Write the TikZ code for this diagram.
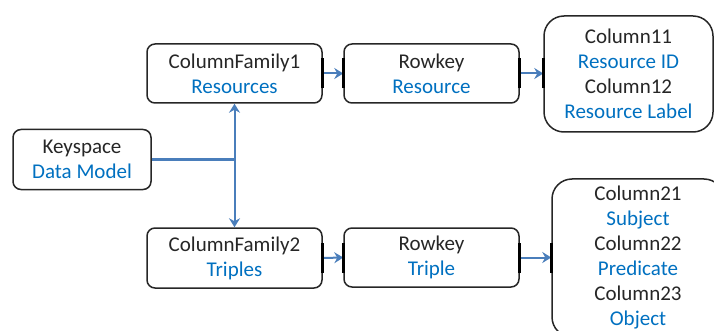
\documentclass[tikz,border=0pt]{standalone}
\usepackage{fontspec}
\setmainfont{Carlito}
\usetikzlibrary{arrows.meta}
\definecolor{txtblue}{RGB}{0,112,192}
\definecolor{arrblue}{RGB}{74,126,187}
\definecolor{txtdark}{RGB}{38,38,38}
\begin{document}
\begin{tikzpicture}[x=1pt,y=-1pt,
  box/.style={draw=txtdark,line width=1.5pt,rounded corners=8pt,align=center,
    inner sep=0pt,font=\fontsize{21}{25}\selectfont,text=txtdark},
  colbox/.style={box,rounded corners=20pt},
  conn/.style={draw=arrblue,line width=2pt,-{Stealth[length=9pt,width=11pt,inset=3pt]}},
  edgemark/.style={line width=2.6pt,draw=black}
]
\useasboundingbox (0,0) rectangle (714,331);
\clip (0,0) rectangle (714,331);
\node[box,minimum width=138pt,minimum height=60pt] (ks) at (82,159.5) {Keyspace\\\textcolor{txtblue}{Data Model}};
\node[box,minimum width=175pt,minimum height=59pt] (cf1) at (234.5,73.5) {ColumnFamily1\\\textcolor{txtblue}{Resources}};
\node[box,minimum width=175pt,minimum height=60pt] (cf2) at (234.5,258) {ColumnFamily2\\\textcolor{txtblue}{Triples}};
\node[box,minimum width=175pt,minimum height=59pt] (r1) at (431.5,73.5) {Rowkey\\\textcolor{txtblue}{Resource}};
\node[box,minimum width=175pt,minimum height=59pt] (r2) at (431.5,257.5) {Rowkey\\\textcolor{txtblue}{Triple}};
\node[colbox,minimum width=169pt,minimum height=116pt] (c1) at (628.5,74) {Column11\\\textcolor{txtblue}{Resource ID}\\Column12\\\textcolor{txtblue}{Resource Label}};
\node[colbox,minimum width=172pt,minimum height=158pt] (c2) at (638,258) {Column21\\\textcolor{txtblue}{Subject}\\Column22\\\textcolor{txtblue}{Predicate}\\Column23\\\textcolor{txtblue}{Object}};
% junction
\coordinate (j) at (cf1.south |- ks.east);
\draw[draw=arrblue,line width=3pt] (ks.east) -- (j);
\draw[conn] (j) -- (cf1.south);
\draw[conn] (j) -- (cf2.north);
\draw[conn] (cf1.east) -- (r1.west);
\draw[conn] (r1.east) -- (c1.west |- r1.east);
\draw[conn] (cf2.east) -- (r2.west);
\draw[conn] (r2.east) -- (c2.west |- r2.east);
% thick edge marks
\foreach \n in {cf1.east,r1.west,r1.east,cf2.east,r2.west,r2.east}{
  \draw[edgemark] ([yshift=-15pt]\n) -- ([yshift=15pt]\n);
}
\draw[edgemark] ([yshift=-15pt]c1.west |- r1.east) -- ([yshift=15pt]c1.west |- r1.east);
\draw[edgemark] ([yshift=-15pt]c2.west |- r2.east) -- ([yshift=15pt]c2.west |- r2.east);
\end{tikzpicture}
\end{document}
